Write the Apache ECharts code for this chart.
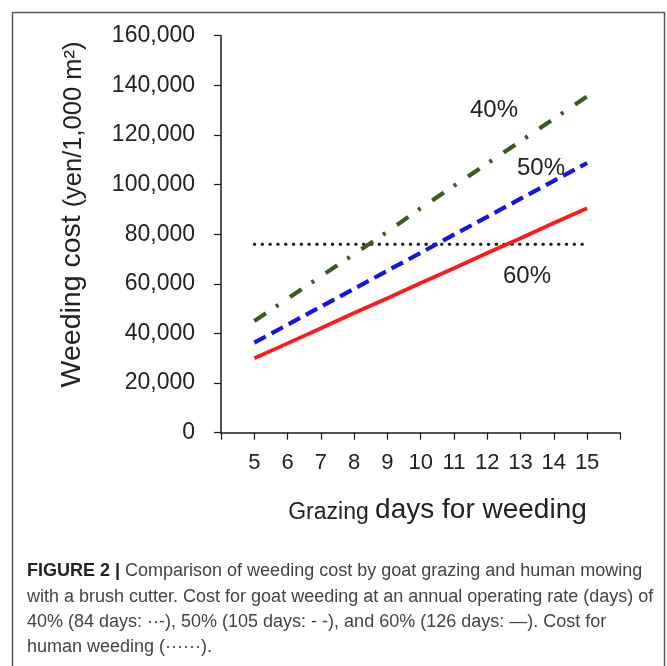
<!DOCTYPE html>
<html>
<head>
<meta charset="utf-8">
<style>
html,body{margin:0;padding:0;background:#fff;}
#chart{width:667px;height:666px;}
</style>
<script src="https://cdn.jsdelivr.net/npm/echarts@6/dist/echarts.min.js"></script>
</head>
<body>
<div id="chart"></div>
<script>
// ---- data ----
var days = [5, 6, 7, 8, 9, 10, 11, 12, 13, 14, 15];
var cost40 = [45000, 54000, 63000, 72000, 81000, 90500, 99500, 108500, 117500, 126500, 135500];
var cost50 = [36300, 43500, 50800, 58000, 65300, 72500, 79800, 87000, 94300, 101500, 108700];
var cost60 = [30000, 36000, 42100, 48200, 54200, 60300, 66300, 72400, 78400, 84500, 90500];
var costHuman = [76000, 76000, 76000, 76000, 76000, 76000, 76000, 76000, 76000, 76000, 76000];
var xTickLabels = ['5', '6', '7', '8', '9', '10', '11', '12', '13', '14', '15'];
var yTickLabels = ['0', '20,000', '40,000', '60,000', '80,000', '100,000', '120,000', '140,000', '160,000'];
var seriesNames = ['40%', '50%', '60%', 'Human'];

function pairs(vals) {
  return days.map(function (d, i) { return [d, vals[i]]; });
}

var FONT = '"Liberation Sans", Arial, sans-serif';
var chart = echarts.init(document.getElementById('chart'), null, {renderer: 'canvas'});

var option = {
  backgroundColor: '#ffffff',
  animation: false,
  grid: {left: 221, right: 46.6, top: 35.7, bottom: 233.3, containLabel: false},
  xAxis: {
    type: 'value', min: 4, max: 16, interval: 1,
    axisLine: {show: true, lineStyle: {color: '#1a1a1a', width: 1.5}},
    axisTick: {show: true, length: 7, lineStyle: {color: '#1a1a1a', width: 1.2}},
    splitLine: {show: false},
    axisLabel: {
      margin: 19, fontSize: 22, color: '#222', fontFamily: FONT,
      formatter: function (v) {
        var i = days.indexOf(v);
        return i >= 0 ? xTickLabels[i] : '';
      }
    }
  },
  yAxis: {
    type: 'value', min: 0, max: 160000, interval: 20000,
    axisLine: {show: true, lineStyle: {color: '#1a1a1a', width: 1.5}},
    axisTick: {show: true, length: 7, lineStyle: {color: '#1a1a1a', width: 1.2}},
    splitLine: {show: false},
    axisLabel: {
      margin: 26, fontSize: 23, color: '#222', fontFamily: FONT,
      formatter: function (v) { return yTickLabels[Math.round(v / 20000)]; }
    }
  },
  series: [
    {
      name: seriesNames[0], type: 'line', data: pairs(cost40), symbol: 'none', z: 3,
      lineStyle: {color: '#3a5a1e', width: 4.2, type: [14, 12, 3, 14], cap: 'butt'}
    },
    {
      name: seriesNames[1], type: 'line', data: pairs(cost50), symbol: 'none', z: 3,
      lineStyle: {color: '#1414e6', width: 4.2, type: [13, 6.5], cap: 'butt'}
    },
    {
      name: seriesNames[2], type: 'line', data: pairs(cost60), symbol: 'none', z: 3,
      lineStyle: {color: '#ff1a1a', width: 3.8, type: 'solid'}
    },
    {
      name: seriesNames[3], type: 'line', data: pairs(costHuman), symbol: 'none', z: 2,
      lineStyle: {color: '#111', width: 3, type: [0.5, 7.3], cap: 'round'}
    }
  ],
  graphic: [
    {
      type: 'rect', silent: true, z: 0,
      shape: {x: 12.5, y: 12.5, width: 652, height: 670},
      style: {fill: 'none', stroke: '#5a5a5a', lineWidth: 1.5}
    },
    {
      type: 'text', x: 72, y: 214.5, rotation: Math.PI / 2,
      style: {
        text: '{a|Weeding cost }{b|(yen/1,000 m²)}',
        align: 'center', verticalAlign: 'middle',
        rich: {
          a: {fontSize: 28.5, fontFamily: FONT, fill: '#222', color: '#222', verticalAlign: 'bottom'},
          b: {fontSize: 25.5, fontFamily: FONT, fill: '#222', color: '#222', verticalAlign: 'bottom'}
        }
      }
    },
    {
      type: 'text', x: 437.5, y: 510,
      style: {
        text: '{g|Grazing }{d|days for weeding}',
        align: 'center', verticalAlign: 'middle',
        rich: {
          g: {fontSize: 23, fontFamily: FONT, fill: '#222', color: '#222', verticalAlign: 'bottom'},
          d: {fontSize: 28, fontFamily: FONT, fill: '#222', color: '#222', verticalAlign: 'bottom'}
        }
      }
    },
    {type: 'text', x: 494, y: 110, style: {text: '40%', fontSize: 24, fontFamily: FONT, fill: '#222', align: 'center', verticalAlign: 'middle'}},
    {type: 'text', x: 541, y: 168, style: {text: '50%', fontSize: 24, fontFamily: FONT, fill: '#222', align: 'center', verticalAlign: 'middle'}},
    {type: 'text', x: 527, y: 276, style: {text: '60%', fontSize: 24, fontFamily: FONT, fill: '#222', align: 'center', verticalAlign: 'middle'}},
    {
      type: 'text', x: 27, y: 571,
      style: {
        text: '{b|FIGURE 2 | }{r|Comparison of weeding cost by goat grazing and human mowing}',
        align: 'left', verticalAlign: 'middle',
        rich: {
          b: {fontSize: 18, fontWeight: 'bold', fontFamily: FONT, fill: '#222', color: '#222'},
          r: {fontSize: 18, fontFamily: FONT, fill: '#444', color: '#444'}
        }
      }
    },
    {type: 'text', x: 27, y: 597, style: {text: 'with a brush cutter. Cost for goat weeding at an annual operating rate (days) of', fontSize: 18, fontFamily: FONT, fill: '#444', align: 'left', verticalAlign: 'middle'}},
    {type: 'text', x: 27, y: 622, style: {text: '40% (84 days: \u00B7\u00B7-), 50% (105 days: - -), and 60% (126 days: \u2014). Cost for', fontSize: 18, fontFamily: FONT, fill: '#444', align: 'left', verticalAlign: 'middle'}},
    {type: 'text', x: 27, y: 647, style: {text: 'human weeding (\u00B7\u00B7\u00B7\u00B7\u00B7\u00B7).', fontSize: 18, fontFamily: FONT, fill: '#444', align: 'left', verticalAlign: 'middle'}}
  ]
};
chart.setOption(option);
</script>
</body>
</html>
